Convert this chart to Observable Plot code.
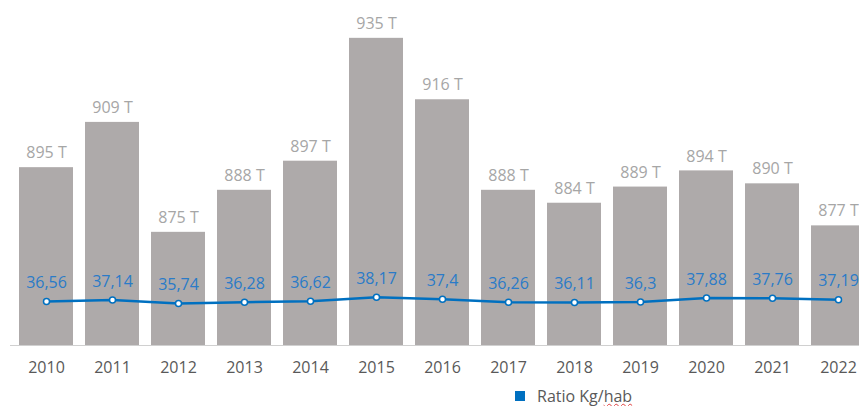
<!DOCTYPE html>
<html>
<head>
<meta charset="utf-8">
<script src="https://cdn.jsdelivr.net/npm/d3@7"></script>
<script src="https://cdn.jsdelivr.net/npm/@observablehq/plot@0.6"></script>
<style>
  html, body { margin: 0; padding: 0; background: #fff; overflow: hidden; width: 859px; height: 406px; }
  #wrap { position: relative; width: 874px; height: 375px; }
  #wrap svg { position: absolute; left: 0; top: 0; max-width: none !important; }
  #legend { position: absolute; left: 515px; top: 385px; font-family: 'Open Sans', sans-serif; font-size: 16px; color: #595959; display: flex; align-items: center; white-space: nowrap; }
  #legend .sw { width: 10px; height: 10px; background: #0070C0; margin-right: 12px; }
  #legend .sq { text-decoration: underline wavy #e04040; text-decoration-thickness: 1px; text-underline-offset: 1px; }
</style>
</head>
<body>
<div id="wrap"></div>
<div id="legend"><span class="sw"></span><span>Ratio Kg/<span class="sq">hab</span></span></div>
<script>
const years = ["2010","2011","2012","2013","2014","2015","2016","2017","2018","2019","2020","2021","2022"];
const tonnes = [895, 909, 875, 888, 897, 935, 916, 888, 884, 889, 894, 890, 877];
const ratio = [36.56, 37.14, 35.74, 36.28, 36.62, 38.17, 37.4, 36.26, 36.11, 36.3, 37.88, 37.76, 37.19];

const barData = years.map((y, i) => ({year: y, t: tonnes[i]}));
const lineData = years.map((y, i) => ({year: y, r: ratio[i]}));

const W = 874, H = 375;
const xOpts = {domain: years, paddingInner: 0.18, paddingOuter: 0.07};
const common = {
  width: W, height: H, marginLeft: 10, marginRight: 0, marginTop: 0, marginBottom: 30,
  style: {fontFamily: "'Open Sans', sans-serif", fontSize: "16px", background: "transparent", overflow: "visible"}
};

const bars = Plot.plot({
  ...common,
  x: {...xOpts, axis: null},
  y: {domain: [840, 946.7], axis: null},
  marks: [
    Plot.barY(barData, {x: "year", y1: 840, y2: "t", fill: "#AEAAAA"}),
    Plot.ruleY([840], {stroke: "#d0d0d0", strokeWidth: 1}),
    Plot.text(barData, {x: "year", y: "t", text: d => `${d.t} T`, dy: -14.5, fill: "#a6a6a6", fontSize: 16}),
    Plot.axisX({tickSize: 0, tickPadding: 16, fill: "#595959", fontSize: 16, label: null})
  ]
});

const line = Plot.plot({
  ...common,
  x: {...xOpts, axis: null},
  y: {domain: [19.6, 152.3], axis: null},
  marks: [
    Plot.line(lineData, {x: "year", y: "r", stroke: "#0070C0", strokeWidth: 2.5}),
    Plot.dot(lineData, {x: "year", y: "r", r: 3, fill: "#fff", stroke: "#0070C0", strokeWidth: 1.5}),
    Plot.text(lineData, {x: "year", y: "r", text: d => String(d.r).replace(".", ","), dy: -18.5, fill: "#2a7bc8", fontSize: 16})
  ]
});

const wrap = document.getElementById("wrap");
wrap.appendChild(bars);
wrap.appendChild(line);
</script>
</body>
</html>
